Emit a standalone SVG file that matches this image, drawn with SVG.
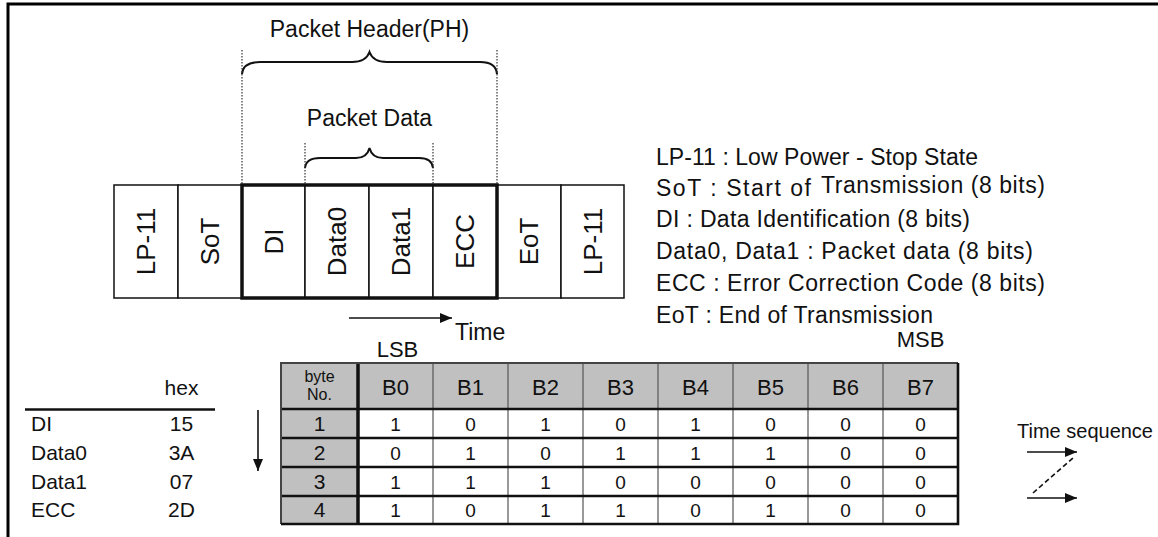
<svg xmlns="http://www.w3.org/2000/svg" width="1158" height="537" viewBox="0 0 1158 537">
<style>
text{font-family:"Liberation Sans",Arial,sans-serif;fill:#111}
.lbl{font-size:23px}
.cell{fill:#fff;stroke:#111;stroke-width:1.5}
.vl{font-size:26px;text-anchor:middle}
.dot{stroke:#333;stroke-width:1.2;stroke-dasharray:1.5 1.5;fill:none}
.brace{fill:none;stroke:#111;stroke-width:2}
.leg{font-size:23px}
.th{font-size:22px;text-anchor:middle}
.td{font-size:19px;text-anchor:middle}
.hx{font-size:21px}
.ln{stroke:#111;stroke-width:1.6;fill:none}
</style>
<defs>
<marker id="ah" viewBox="0 0 12 10" refX="12" refY="5" markerWidth="12" markerHeight="10" markerUnits="userSpaceOnUse" orient="auto">
<path d="M0 0 L12 5 L0 10 Z" fill="#111"/>
</marker>
</defs>
<rect width="1158" height="537" fill="#fff"/>
<path d="M8 537 V4 H1158" fill="none" stroke="#000" stroke-width="3"/>

<g id="packet-header">
<text class="lbl" x="369.5" y="37" text-anchor="middle">Packet Header(PH)</text>
<path class="brace" d="M242 74 Q243 62 260 62 L352 62 Q366 62 369.5 52 Q373 62 387 62 L480 62 Q496 62 497 74"/>
<line class="dot" x1="242" y1="50" x2="242" y2="185"/>
<line class="dot" x1="497" y1="50" x2="497" y2="185"/>
</g>
<g id="packet-data">
<text class="lbl" x="369.5" y="126" text-anchor="middle">Packet Data</text>
<path class="brace" d="M305 168 Q306 158 320 158 L356 158 Q367 158 369.5 148 Q372 158 383 158 L419 158 Q432 158 433 168"/>
<line class="dot" x1="305" y1="143" x2="305" y2="185"/>
<line class="dot" x1="433" y1="143" x2="433" y2="185"/>
</g>

<g id="cell-lp11-a"><rect class="cell" x="114" y="185" width="64" height="113"/><text class="vl" transform="translate(155,241.5) rotate(-90)">LP-11</text></g>
<g id="cell-sot"><rect class="cell" x="178" y="185" width="64" height="113"/><text class="vl" transform="translate(219,241.5) rotate(-90)">SoT</text></g>
<g id="cell-di"><rect class="cell" x="242" y="185" width="63" height="113"/><text class="vl" transform="translate(282.5,241.5) rotate(-90)">DI</text></g>
<g id="cell-data0"><rect class="cell" x="305" y="185" width="64" height="113"/><text class="vl" transform="translate(346,241.5) rotate(-90)">Data0</text></g>
<g id="cell-data1"><rect class="cell" x="369" y="185" width="64" height="113"/><text class="vl" transform="translate(410,241.5) rotate(-90)">Data1</text></g>
<g id="cell-ecc"><rect class="cell" x="433" y="185" width="64" height="113"/><text class="vl" transform="translate(474,241.5) rotate(-90)">ECC</text></g>
<g id="cell-eot"><rect class="cell" x="497" y="185" width="64" height="113"/><text class="vl" transform="translate(538,241.5) rotate(-90)">EoT</text></g>
<g id="cell-lp11-b"><rect class="cell" x="561" y="185" width="63" height="113"/><text class="vl" transform="translate(601.5,241.5) rotate(-90)">LP-11</text></g>
<rect id="ph-frame" x="242" y="185" width="255" height="113" fill="none" stroke="#111" stroke-width="3.5"/>

<g id="connectors">
<line class="ln" x1="349" y1="318" x2="452" y2="318" marker-end="url(#ah)"/>
<line class="ln" x1="258" y1="410" x2="258" y2="471" marker-end="url(#ah)"/>
<line class="ln" x1="1027" y1="452" x2="1077" y2="452" marker-end="url(#ah)"/>
<line class="ln" x1="1033" y1="493" x2="1073" y2="458" stroke-dasharray="5 3"/>
<line class="ln" x1="1027" y1="498" x2="1077" y2="498" marker-end="url(#ah)"/>
</g>
<text class="lbl" x="455" y="340">Time</text>
<text x="1017" y="438" font-size="20">Time sequence</text>

<g id="legend" class="leg">
<text x="656" y="165" textLength="322" lengthAdjust="spacing">LP-11 : Low Power - Stop State</text>
<text x="656" y="196"><tspan textLength="155" lengthAdjust="spacing">SoT : Start of</tspan><tspan x="821" y="193" textLength="224" lengthAdjust="spacing">Transmission (8 bits)</tspan></text>
<text x="656" y="227" textLength="314" lengthAdjust="spacing">DI : Data Identification (8 bits)</text>
<text x="656" y="259" textLength="377" lengthAdjust="spacing">Data0, Data1 : Packet data (8 bits)</text>
<text x="656" y="291" textLength="389" lengthAdjust="spacing">ECC : Error Correction Code (8 bits)</text>
<text x="656" y="323" textLength="277" lengthAdjust="spacing">EoT : End of Transmission</text>
</g>

<g id="hex-table">
<text class="hx" x="181.5" y="395" text-anchor="middle">hex</text>
<line x1="25" y1="409.5" x2="215" y2="409.5" stroke="#111" stroke-width="2.5"/>
<text class="hx" x="31" y="431">DI</text><text class="hx" x="181.5" y="431" text-anchor="middle">15</text>
<text class="hx" x="31" y="460">Data0</text><text class="hx" x="181.5" y="460" text-anchor="middle">3A</text>
<text class="hx" x="31" y="489">Data1</text><text class="hx" x="181.5" y="489" text-anchor="middle">07</text>
<text class="hx" x="31" y="517">ECC</text><text class="hx" x="181.5" y="517" text-anchor="middle">2D</text>
</g>

<g id="bit-table">
<text x="397.5" y="357" font-size="22" text-anchor="middle">LSB</text>
<text x="920.5" y="347" font-size="22" text-anchor="middle">MSB</text>
<rect x="281" y="363" width="677" height="46" fill="#c0c0c0"/>
<rect x="281" y="409" width="77" height="115" fill="#c0c0c0"/>
<rect x="358" y="409" width="600" height="115" fill="#fff"/>
<g stroke="#555" stroke-width="1.2">
<line x1="433" y1="363" x2="433" y2="524"/><line x1="508" y1="363" x2="508" y2="524"/>
<line x1="583" y1="363" x2="583" y2="524"/><line x1="658" y1="363" x2="658" y2="524"/>
<line x1="733" y1="363" x2="733" y2="524"/><line x1="808" y1="363" x2="808" y2="524"/>
<line x1="883" y1="363" x2="883" y2="524"/>
</g>
<g stroke="#111" stroke-width="2.5">
<line x1="281" y1="409" x2="958" y2="409"/><line x1="281" y1="438" x2="958" y2="438"/>
<line x1="281" y1="467" x2="958" y2="467"/><line x1="281" y1="496" x2="958" y2="496"/>
</g>
<line x1="358" y1="363" x2="358" y2="524" stroke="#111" stroke-width="3.5"/>
<path d="M281 524 V363 H958" fill="none" stroke="#444" stroke-width="2"/>
<path d="M958 363 V524 H281" fill="none" stroke="#111" stroke-width="2.6"/>
<text x="319.5" y="382" font-size="16" text-anchor="middle">byte</text>
<text x="319.5" y="400" font-size="16" text-anchor="middle">No.</text>
<text class="th" x="395.5" y="395">B0</text><text class="th" x="470.5" y="395">B1</text>
<text class="th" x="545.5" y="395">B2</text><text class="th" x="620.5" y="395">B3</text>
<text class="th" x="695.5" y="395">B4</text><text class="th" x="770.5" y="395">B5</text>
<text class="th" x="845.5" y="395">B6</text><text class="th" x="920.5" y="395">B7</text>
<g class="td">
<text x="319.5" y="430.5" font-size="21">1</text><text x="319.5" y="459.5" font-size="21">2</text>
<text x="319.5" y="488.5" font-size="21">3</text><text x="319.5" y="517" font-size="21">4</text>
<text x="395.5" y="430.5">1</text><text x="470.5" y="430.5">0</text><text x="545.5" y="430.5">1</text><text x="620.5" y="430.5">0</text>
<text x="695.5" y="430.5">1</text><text x="770.5" y="430.5">0</text><text x="845.5" y="430.5">0</text><text x="920.5" y="430.5">0</text>
<text x="395.5" y="459.5">0</text><text x="470.5" y="459.5">1</text><text x="545.5" y="459.5">0</text><text x="620.5" y="459.5">1</text>
<text x="695.5" y="459.5">1</text><text x="770.5" y="459.5">1</text><text x="845.5" y="459.5">0</text><text x="920.5" y="459.5">0</text>
<text x="395.5" y="488.5">1</text><text x="470.5" y="488.5">1</text><text x="545.5" y="488.5">1</text><text x="620.5" y="488.5">0</text>
<text x="695.5" y="488.5">0</text><text x="770.5" y="488.5">0</text><text x="845.5" y="488.5">0</text><text x="920.5" y="488.5">0</text>
<text x="395.5" y="517">1</text><text x="470.5" y="517">0</text><text x="545.5" y="517">1</text><text x="620.5" y="517">1</text>
<text x="695.5" y="517">0</text><text x="770.5" y="517">1</text><text x="845.5" y="517">0</text><text x="920.5" y="517">0</text>
</g>
</g>
</svg>
